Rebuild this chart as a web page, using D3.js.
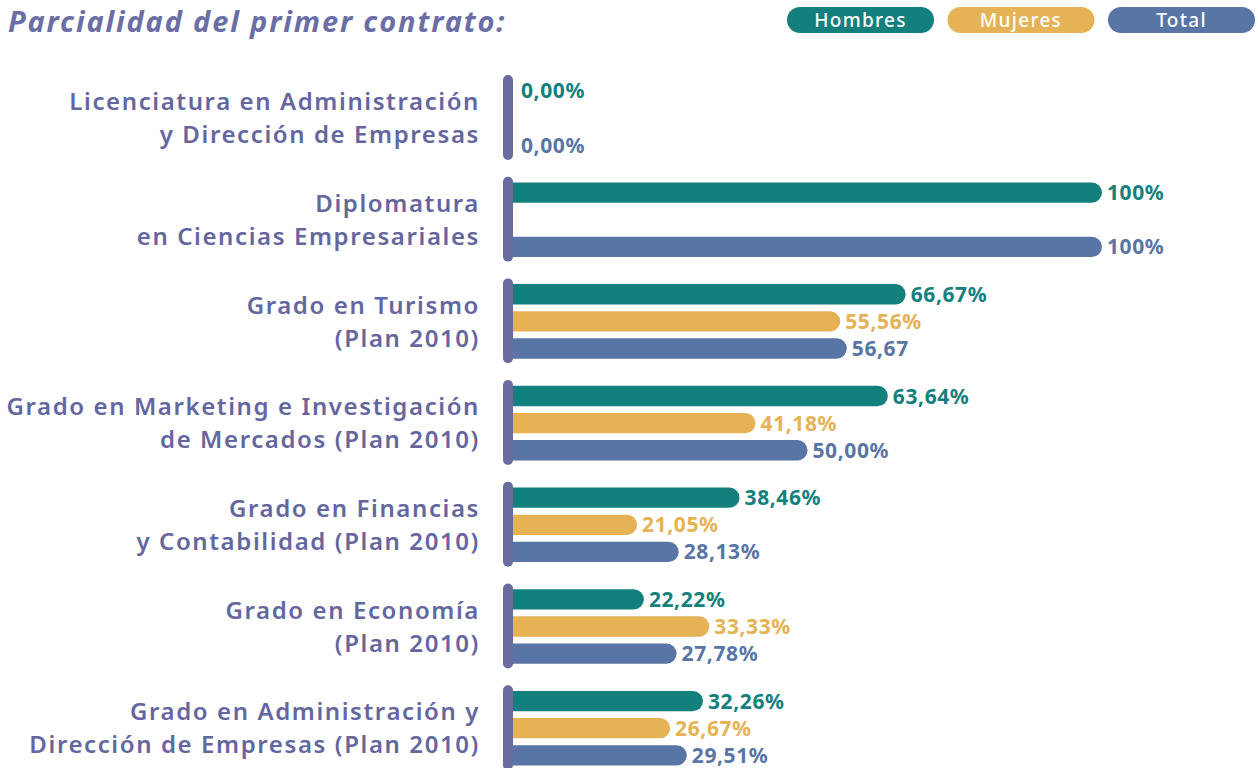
<!DOCTYPE html>
<html>
<head>
<meta charset="utf-8">
<script src="https://cdn.jsdelivr.net/npm/d3@7"></script>
<style>
  body { margin: 0; background: #fff; }
  svg { display: block; font-family: "Noto Sans", sans-serif; }
</style>
</head>
<body>
<svg id="chart" width="1258" height="768"></svg>
<script>
// categories (two lines each)
var categories = [
  ["Licenciatura en Administración", "y Dirección de Empresas"],
  ["Diplomatura", "en Ciencias Empresariales"],
  ["Grado en Turismo", "(Plan 2010)"],
  ["Grado en Marketing e Investigación", "de Mercados (Plan 2010)"],
  ["Grado en Financias", "y Contabilidad (Plan 2010)"],
  ["Grado en Economía", "(Plan 2010)"],
  ["Grado en Administración y", "Dirección de Empresas (Plan 2010)"]
];
var series = ["Hombres", "Mujeres", "Total"];
var hombres = [0, 100, 66.67, 63.64, 38.46, 22.22, 32.26];
var mujeres = [null, null, 55.56, 41.18, 21.05, 33.33, 26.67];
var total = [0, 100, 56.67, 50.00, 28.13, 27.78, 29.51];
var hombresLabels = ["0,00%", "100%", "66,67%", "63,64%", "38,46%", "22,22%", "32,26%"];
var mujeresLabels = [null, null, "55,56%", "41,18%", "21,05%", "33,33%", "26,67%"];
var totalLabels = ["0,00%", "100%", "56,67", "50,00%", "28,13%", "27,78%", "29,51%"];

var colors = { Hombres: "#13807e", Mujeres: "#e5b255", Total: "#5875a6" };
var textColor = "#6466a0";

var svg = d3.select("#chart");

var data = categories.map(function(c, i) {
  return {
    name: c,
    values: [
      { key: "Hombres", value: hombres[i], label: hombresLabels[i] },
      { key: "Mujeres", value: mujeres[i], label: mujeresLabels[i] },
      { key: "Total", value: total[i], label: totalLabels[i] }
    ]
  };
});

var x = d3.scaleLinear().domain([0, 100]).range([513, 1102]);

var y0 = d3.scaleBand()
  .domain(d3.range(categories.length))
  .range([75, 75 + 101.7 * (categories.length - 0.165)])
  .paddingInner(0.165);

var y1 = d3.scaleBand()
  .domain(series)
  .range([3, 83])
  .paddingInner(0.25)
  .paddingOuter(0.1);

// title
svg.append("text")
  .attr("x", 8)
  .attr("y", 32)
  .style("font-size", "29px")
  .style("font-weight", "700")
  .style("font-style", "italic")
  .style("letter-spacing", "1.85px")
  .style("fill", "#6b6ea4")
  .text("Parcialidad del primer contrato:");

// legend pills
var legend = svg.append("g").selectAll("g")
  .data(series)
  .enter().append("g")
  .attr("transform", function(d, i) { return "translate(" + (787 + i * 160.5) + ",7)"; });

legend.append("rect")
  .attr("width", 147)
  .attr("height", 26)
  .attr("rx", 13)
  .style("fill", function(d) { return colors[d]; });

legend.append("text")
  .attr("x", 73.5)
  .attr("y", 13)
  .attr("dy", ".35em")
  .attr("text-anchor", "middle")
  .style("font-size", "19px")
  .style("font-weight", "500")
  .style("letter-spacing", "1.3px")
  .style("fill", "#fff")
  .text(function(d) { return d; });

var group = svg.append("g").selectAll("g")
  .data(data)
  .enter().append("g")
  .attr("transform", function(d, i) { return "translate(0," + y0(i) + ")"; });

// category labels
group.append("text")
  .attr("x", 480)
  .attr("y", y0.bandwidth() / 2)
  .attr("text-anchor", "end")
  .style("font-size", "24px")
  .style("font-weight", "600")
  .style("letter-spacing", "1.6px")
  .style("fill", textColor)
  .selectAll("tspan")
  .data(function(d) { return d.name; })
  .enter().append("tspan")
  .attr("x", 480)
  .attr("dy", function(d, i) { return i === 0 ? "-0.3em" : "1.37em"; })
  .text(function(d) { return d; });

// bars (flat left, round right)
function barPath(v, yy, h) {
  var x0 = 508, x1 = x(v), r = h / 2;
  return "M" + x0 + "," + yy +
    "H" + (x1 - r) +
    "A" + r + "," + r + " 0 0 1 " + (x1 - r) + "," + (yy + h) +
    "H" + x0 + "Z";
}

var bar = group.selectAll(".bar")
  .data(function(d) { return d.values.filter(function(v) { return v.value !== null; }); })
  .enter().append("g")
  .attr("class", "bar");

bar.filter(function(d) { return d.value > 0; })
  .append("path")
  .attr("d", function(d) { return barPath(d.value, y1(d.key), y1.bandwidth()); })
  .style("fill", function(d) { return colors[d.key]; });

bar.append("text")
  .attr("x", function(d) { return d.value > 0 ? x(d.value) + 5 : x(0) + 8; })
  .attr("y", function(d) { return y1(d.key) + y1.bandwidth() / 2; })
  .attr("dy", ".36em")
  .style("font-size", "21px")
  .style("font-weight", "700")
  .style("letter-spacing", "0.6px")
  .style("fill", function(d) { return colors[d.key]; })
  .text(function(d) { return d.label; });

// vertical axis bar
group.append("rect")
  .attr("x", 503)
  .attr("y", 0)
  .attr("width", 10)
  .attr("height", y0.bandwidth())
  .attr("rx", 5)
  .style("fill", "#6a6b9f");
</script>
</body>
</html>
